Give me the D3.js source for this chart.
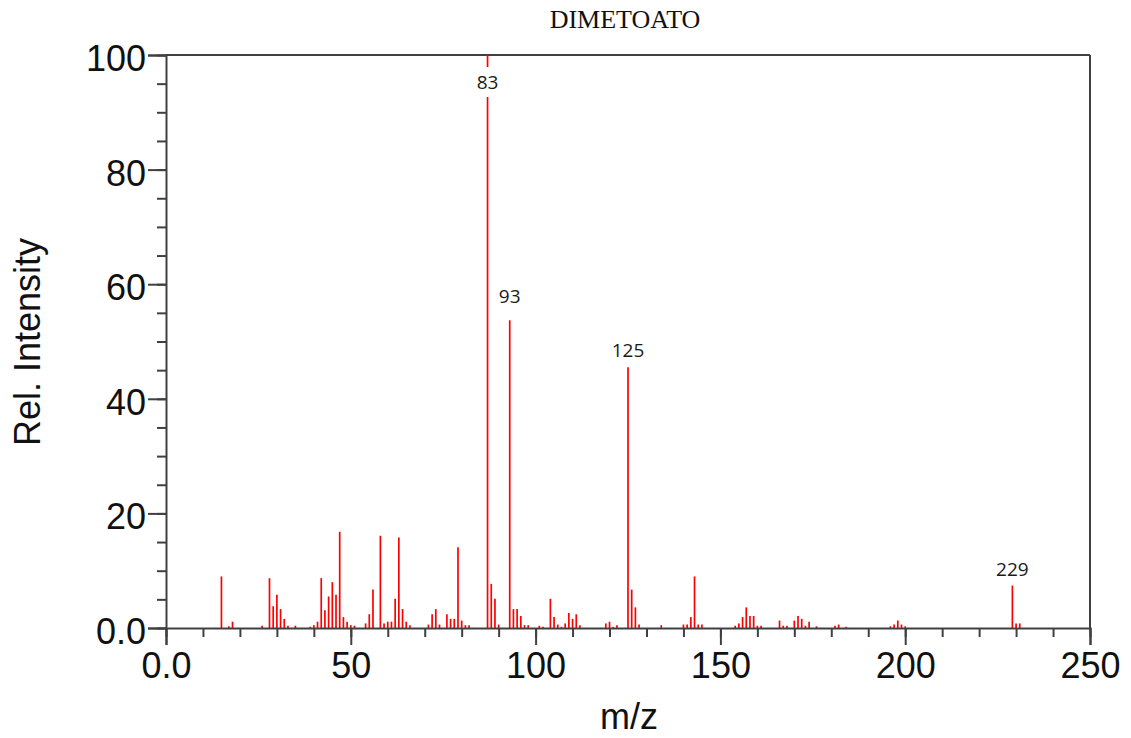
<!DOCTYPE html>
<html>
<head>
<meta charset="utf-8">
<script src="https://cdn.jsdelivr.net/npm/d3@7"></script>
<style>
  body { margin: 0; background: #fff; }
  svg { display: block; }
</style>
</head>
<body>
<div id="chart"></div>
<script>
// m/z positions and relative intensities
const mzValues = [15, 17, 18, 26, 28, 29, 30, 31, 32, 33, 35, 39, 40, 41, 42, 43, 44, 45, 46, 47, 48, 49, 50, 51,
  54, 55, 56, 58, 59, 60, 61, 62, 63, 64, 65, 66, 71, 72, 73, 74, 76, 77, 78, 79, 80, 81, 82,
  87, 88, 89, 90, 93, 94, 95, 96, 97, 98, 101, 102, 104, 105, 106, 107, 108, 109, 110, 111, 112,
  119, 120, 121, 122, 125, 126, 127, 128, 134, 140, 141, 142, 143, 144, 145,
  154, 155, 156, 157, 158, 159, 160, 161, 166, 167, 168, 170, 171, 172, 173, 174, 176,
  181, 182, 184, 196, 197, 198, 199, 200, 229, 230, 231];
const intensities = [9.0, 0.3, 1.1, 0.4, 8.7, 3.8, 5.8, 3.3, 1.6, 0.4, 0.4, 0.2, 0.5, 1.1, 8.7, 3.1, 5.5, 8.0, 5.8, 16.8, 1.9, 1.1, 0.5, 0.4,
  0.8, 2.4, 6.7, 16.1, 0.8, 1.1, 1.1, 5.1, 15.8, 3.3, 1.1, 0.5, 0.6, 2.4, 3.3, 0.6, 2.4, 1.6, 1.6, 14.1, 1.3, 0.5, 0.5,
  100, 7.7, 5.1, 0.6, 53.7, 3.3, 3.3, 2.1, 0.5, 0.5, 0.4, 0.2, 5.1, 1.9, 0.6, 0.2, 0.8, 2.6, 1.6, 2.4, 0.5,
  0.8, 1.1, 0.2, 0.5, 45.5, 6.7, 3.6, 0.6, 0.5, 0.6, 0.6, 1.9, 9.0, 0.6, 0.6,
  0.4, 0.8, 1.9, 3.6, 2.1, 2.1, 0.4, 0.4, 1.3, 0.4, 0.4, 1.3, 2.1, 1.6, 0.4, 1.1, 0.3,
  0.4, 0.6, 0.2, 0.3, 0.6, 1.3, 0.6, 0.3, 7.4, 0.8, 0.8];

const labeledMz = [87, 93, 125, 229];
const labelTexts = ["83", "93", "125", "229"];

const xMajorTicks = [0, 50, 100, 150, 200, 250];
const xTickLabels = ["0.0", "50", "100", "150", "200", "250"];
const yMajorTicks = [0, 20, 40, 60, 80, 100];
const yTickLabels = ["0.0", "20", "40", "60", "80", "100"];

const chartTitle = "DIMETOATO";

// small vertical nudges for the peak labels (px)
const labelNudge = [0, -7, 0, 0];

const W = 1131, H = 738;
const margin = { top: 55, right: 41, bottom: 110, left: 166 },
  width = W - margin.left - margin.right,
  height = H - margin.top - margin.bottom;

const axisColor = "#404040";
const axisFont = "Liberation Sans, Arial, sans-serif";

const svg = d3.select("#chart").append("svg")
  .attr("width", W)
  .attr("height", H);

const g = svg.append("g")
  .attr("transform", "translate(" + margin.left + "," + margin.top + ")");

const x = d3.scaleLinear().domain([0, 250]).range([0, width]);
const y = d3.scaleLinear().domain([0, 100]).range([height, 0]);

const data = mzValues.map((m, i) => ({ mz: m, v: intensities[i] }));

// frame: top and right edges
g.append("line")
  .attr("x1", 0).attr("x2", width).attr("y1", 0).attr("y2", 0)
  .attr("stroke", axisColor).attr("stroke-width", 2);
g.append("line")
  .attr("x1", width).attr("x2", width).attr("y1", 0).attr("y2", height)
  .attr("stroke", axisColor).attr("stroke-width", 2);

// sticks
g.append("g")
  .selectAll("line")
  .data(data)
  .enter()
  .append("line")
  .attr("x1", d => x(d.mz))
  .attr("x2", d => x(d.mz))
  .attr("y1", y(0))
  .attr("y2", d => y(d.v))
  .attr("stroke", "#ff0000")
  .attr("stroke-width", 1.7);

// minor ticks
const xMinor = d3.range(0, 251, 10);
const yMinor = d3.range(0, 101, 5);

g.append("g")
  .attr("transform", "translate(0," + height + ")")
  .call(d3.axisBottom(x).tickValues(xMinor).tickSize(9).tickFormat(""))
  .call(a => a.select(".domain").remove())
  .call(a => a.selectAll("line").attr("stroke", axisColor).attr("stroke-width", 2));

g.append("g")
  .call(d3.axisLeft(y).tickValues(yMinor).tickSize(9).tickFormat(""))
  .call(a => a.select(".domain").remove())
  .call(a => a.selectAll("line").attr("stroke", axisColor).attr("stroke-width", 2));

// major ticks + labels
const xAxis = g.append("g")
  .attr("transform", "translate(0," + height + ")")
  .call(d3.axisBottom(x).tickValues(xMajorTicks).tickSize(17).tickPadding(7)
    .tickFormat((d, i) => xTickLabels[i]));
xAxis.select(".domain").attr("stroke", axisColor).attr("stroke-width", 2);
xAxis.selectAll("line").attr("stroke", axisColor).attr("stroke-width", 2);
xAxis.selectAll("text")
  .attr("fill", "#111")
  .style("font-family", axisFont)
  .style("font-size", "36px");

const yAxis = g.append("g")
  .call(d3.axisLeft(y).tickValues(yMajorTicks).tickSize(18).tickPadding(2)
    .tickFormat((d, i) => yTickLabels[i]));
yAxis.select(".domain").attr("stroke", axisColor).attr("stroke-width", 2);
yAxis.selectAll("line").attr("stroke", axisColor).attr("stroke-width", 2);
yAxis.selectAll("text")
  .attr("dy", "0.43em")
  .attr("fill", "#111")
  .style("font-family", axisFont)
  .style("font-size", "36px");

// peak labels
const labels = g.append("g");
labeledMz.forEach(function (m, i) {
  const d = data.find(p => p.mz === m);
  const ty = Math.max(y(d.v) - 10 + labelNudge[i], y(100) + 34);
  const t = labels.append("text")
    .attr("x", x(m))
    .attr("y", ty)
    .attr("text-anchor", "middle")
    .attr("fill", "#1a1a1a")
    .style("font-family", "Open Sans, sans-serif")
    .style("font-size", "19px")
    .text(labelTexts[i]);
  const bb = t.node().getBBox();
  labels.insert("rect", "text")
    .attr("x", bb.x - 1)
    .attr("y", bb.y - 2)
    .attr("width", bb.width + 2)
    .attr("height", bb.height + 4)
    .attr("fill", "#fff");
});

// axis titles
svg.append("text")
  .attr("x", 629)
  .attr("y", 729)
  .attr("text-anchor", "middle")
  .attr("fill", "#111")
  .style("font-family", axisFont)
  .style("font-size", "36px")
  .text("m/z");

svg.append("text")
  .attr("transform", "translate(40,342) rotate(-90)")
  .attr("text-anchor", "middle")
  .attr("fill", "#111")
  .style("font-family", axisFont)
  .style("font-size", "36px")
  .text("Rel. Intensity");

svg.append("text")
  .attr("x", 625)
  .attr("y", 28)
  .attr("text-anchor", "middle")
  .attr("fill", "#111")
  .style("font-family", "Liberation Serif, Times New Roman, serif")
  .style("font-size", "26px")
  .text(chartTitle);
</script>
</body>
</html>
